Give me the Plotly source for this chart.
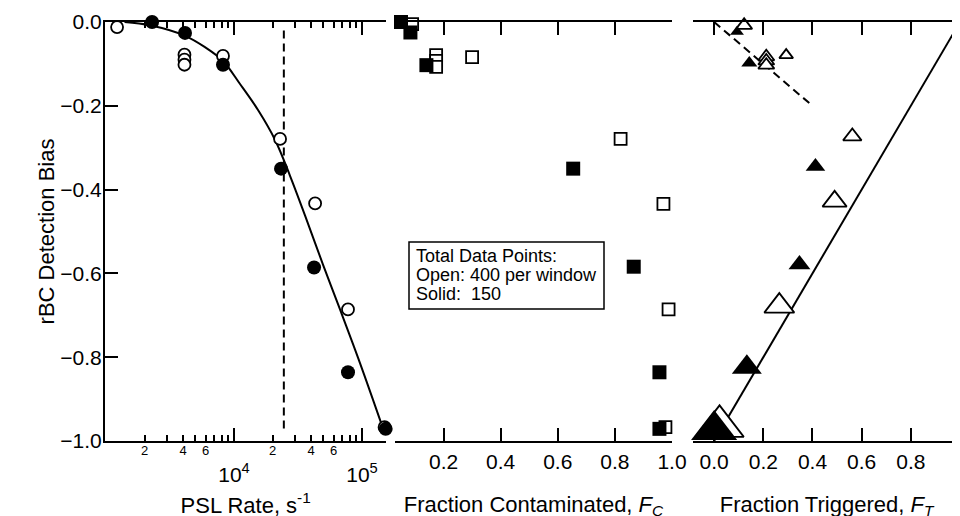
import plotly.graph_objects as go

# ---------------- data ----------------
# Left panel: PSL rate (s^-1) vs rBC detection bias
psl_open_x = [1220, 4100, 4100, 4100, 8200, 22900, 43000, 77700, 150000]
psl_open_y = [-0.012, -0.078, -0.090, -0.102, -0.081, -0.279, -0.433, -0.686, -0.967]
psl_solid_x = [2290, 4140, 8200, 23300, 42200, 77700, 153000]
psl_solid_y = [0.0, -0.026, -0.102, -0.350, -0.586, -0.836, -0.971]
fit_x = [1395, 2208, 4140, 5930, 8200, 11140, 15400, 20900, 27380, 35900, 49550, 67300, 96400, 145900]
fit_y = [0.0, -0.008, -0.033, -0.060, -0.093, -0.148, -0.210, -0.281, -0.367, -0.462, -0.579, -0.686, -0.814, -0.970]
vline_x = [24500, 24500]
vline_y = [-0.02, -0.98]

# Middle panel: fraction contaminated
fc_open_x = [0.09, 0.174, 0.174, 0.174, 0.30, 0.82, 0.97, 0.988, 0.977]
fc_open_y = [-0.005, -0.079, -0.093, -0.107, -0.084, -0.279, -0.434, -0.686, -0.967]
fc_solid_x = [0.051, 0.084, 0.14, 0.654, 0.866, 0.956, 0.956]
fc_solid_y = [0.0, -0.025, -0.103, -0.350, -0.584, -0.836, -0.971]

# Right panel: fraction triggered
ft_open_x = [0.122, 0.212, 0.212, 0.212, 0.293, 0.562, 0.49, 0.265, 0.022]
ft_open_y = [-0.008, -0.083, -0.093, -0.103, -0.079, -0.273, -0.428, -0.678, -0.965]
ft_open_size = [14, 14, 14, 14, 12, 16, 21, 26, 42]
ft_solid_x = [0.061, 0.093, 0.143, 0.412, 0.347, 0.133, 0.0]
ft_solid_y = [0.002, -0.023, -0.098, -0.345, -0.579, -0.824, -0.974]
ft_solid_size = [11, 12, 14, 17, 19, 26, 40]
ft_dash_x = [0.0, 0.39]
ft_dash_y = [0.0, -0.195]
ft_line_x = [0.0, 1.0]
ft_line_y = [-1.0, 0.0]

# ticks
y_ticks = [0.0, -0.2, -0.4, -0.6, -0.8, -1.0]
log_major = [1e4, 1e5]
log_major_text = ["10<sup>4</sup>", "10<sup>5</sup>"]
log_minor = [2000, 3000, 4000, 5000, 6000, 7000, 8000, 9000,
             20000, 30000, 40000, 50000, 60000, 70000, 80000, 90000]
log_minor_lab = [2000, 4000, 6000, 20000, 40000, 60000]
log_minor_text = ["2", "4", "6", "2", "4", "6"]
fc_ticks = [0.2, 0.4, 0.6, 0.8, 1.0]
ft_ticks = [0.0, 0.2, 0.4, 0.6, 0.8]
box_lines = ["Total Data Points:", "Open: 400 per window", "Solid:  150"]

# ---------------- layout helpers ----------------
# the page body adds an 8 px offset; the figure is shifted accordingly
# (its lowest 8 px fall below the 516 px window, as the reference's titles do)
OFF = 8
W, H = 960 - OFF, 516
ML, MR, MT = 105 - OFF, 0, 22 - OFF
MB = H - (441 - OFF)
PW, PH = W - ML - MR, H - MT - MB


def px(x):
    return (x - OFF - ML) / PW


def py(y):
    return (H - MB - (y - OFF)) / PH


FONT = "Liberation Sans, Arial, Helvetica, sans-serif"
BLK = "black"
LOG_RANGE = [2.992, 5.19]

fig = go.Figure()

# left panel
fig.add_trace(go.Scatter(x=fit_x, y=fit_y, mode="lines", line=dict(color=BLK, width=2, shape="spline"),
                         xaxis="x", yaxis="y", showlegend=False, hoverinfo="skip"))
fig.add_trace(go.Scatter(x=vline_x, y=vline_y, mode="lines", line=dict(color=BLK, width=2, dash="8px,5px"),
                         xaxis="x", yaxis="y", showlegend=False, hoverinfo="skip"))
fig.add_trace(go.Scatter(x=psl_open_x, y=psl_open_y, mode="markers", cliponaxis=False,
                         marker=dict(symbol="circle", size=12, color="white", opacity=1,
                                     line=dict(color=BLK, width=1.8)),
                         xaxis="x", yaxis="y", showlegend=False))
fig.add_trace(go.Scatter(x=psl_solid_x, y=psl_solid_y, mode="markers", cliponaxis=False,
                         marker=dict(symbol="circle", size=14, color=BLK, opacity=1, line=dict(color=BLK, width=0)),
                         xaxis="x", yaxis="y", showlegend=False))
# empty trace so that the overlaying label axis is drawn
fig.add_trace(go.Scatter(x=log_minor_lab, y=[None] * len(log_minor_lab), mode="markers",
                         xaxis="x4", yaxis="y", showlegend=False, hoverinfo="skip"))

# middle panel
fig.add_trace(go.Scatter(x=fc_open_x, y=fc_open_y, mode="markers", cliponaxis=False,
                         marker=dict(symbol="square", size=12, color="white", opacity=1,
                                     line=dict(color=BLK, width=1.8)),
                         xaxis="x2", yaxis="y", showlegend=False))
fig.add_trace(go.Scatter(x=fc_solid_x, y=fc_solid_y, mode="markers", cliponaxis=False,
                         marker=dict(symbol="square", size=14, color=BLK, opacity=1, line=dict(color=BLK, width=0)),
                         xaxis="x2", yaxis="y", showlegend=False))

# right panel
fig.add_trace(go.Scatter(x=ft_line_x, y=ft_line_y, mode="lines", line=dict(color=BLK, width=2),
                         xaxis="x3", yaxis="y2", showlegend=False, hoverinfo="skip"))
fig.add_trace(go.Scatter(x=ft_dash_x, y=ft_dash_y, mode="lines", line=dict(color=BLK, width=2, dash="8px,5px"),
                         xaxis="x3", yaxis="y2", showlegend=False, hoverinfo="skip"))
fig.add_trace(go.Scatter(x=ft_open_x, y=ft_open_y, mode="markers", cliponaxis=False,
                         marker=dict(symbol="triangle-up", size=ft_open_size, color="white", opacity=1,
                                     line=dict(color=BLK, width=1.8)),
                         xaxis="x3", yaxis="y2", showlegend=False))
fig.add_trace(go.Scatter(x=ft_solid_x, y=ft_solid_y, mode="markers", cliponaxis=False,
                         marker=dict(symbol="triangle-up", size=ft_solid_size, color=BLK, opacity=1,
                                     line=dict(color=BLK, width=0)),
                         xaxis="x3", yaxis="y2", showlegend=False))

tickfont = dict(family=FONT, size=21, color=BLK)
titlefont = dict(family=FONT, size=22, color=BLK)

common_x = dict(showline=True, linecolor=BLK, linewidth=2, mirror="ticks", ticks="inside",
                ticklen=13, tickwidth=2, tickcolor=BLK, showgrid=False, zeroline=False,
                tickfont=tickfont, automargin=False)

left_end = 105 + (LOG_RANGE[1] - LOG_RANGE[0]) * 128

fig.update_layout(
    width=W, height=H, margin=dict(l=ML, r=MR, t=MT, b=MB),
    paper_bgcolor="white", plot_bgcolor="white", template="none",
    font=dict(family=FONT, color=BLK),
    xaxis=dict(domain=[0, px(left_end)], type="log", range=LOG_RANGE, anchor="y",
               tickmode="array", tickvals=log_major, ticktext=log_major_text, ticklabelstandoff=14,
               minor=dict(tickmode="array", tickvals=log_minor, ticks="inside", ticklen=6,
                          tickwidth=2, tickcolor=BLK, showgrid=False),
               title=dict(text="PSL Rate, s<sup>-1</sup>", font=titlefont, standoff=12),
               **common_x),
    xaxis4=dict(domain=[0, px(left_end)], type="log", range=LOG_RANGE, anchor="y", overlaying="x",
                side="bottom", tickmode="array", tickvals=log_minor_lab, ticktext=log_minor_text,
                ticks="", showline=False, showgrid=False, zeroline=False,
                tickfont=dict(family=FONT, size=13, color=BLK), automargin=False),
    xaxis2=dict(domain=[px(395), px(672)], range=[0.03, 1.0], anchor="y",
                tickmode="array", tickvals=fc_ticks, tickformat=".1f", ticklabelstandoff=1,
                title=dict(text="Fraction Contaminated, <i>F</i><sub><i>C</i></sub>", font=titlefont, standoff=24),
                **common_x),
    xaxis3=dict(domain=[px(693), 1.0], range=[-0.086, 1.0], anchor="y2",
                tickmode="array", tickvals=ft_ticks, tickformat=".1f", ticklabelstandoff=1,
                title=dict(text="Fraction Triggered, <i>F</i><sub><i>T</i></sub>", font=titlefont, standoff=24),
                **common_x),
    yaxis=dict(domain=[0, 1], range=[-1.0, 0.0], anchor="x",
               tickmode="array", tickvals=y_ticks, tickformat=".1f", ticklabelstandoff=-3,
               showline=True, linecolor=BLK, linewidth=2, ticks="inside", ticklen=13, tickwidth=2,
               tickcolor=BLK, showgrid=False, zeroline=False, tickfont=tickfont, automargin=False,
               title=dict(text="rBC Detection Bias", font=titlefont, standoff=0)),
    yaxis2=dict(domain=[0, 1], range=[-1.0, 0.0], anchor="x3", side="right",
                tickmode="array", tickvals=y_ticks[1:-1], showticklabels=False,
                showline=False, ticks="inside", ticklen=6, tickwidth=2, tickcolor=BLK,
                showgrid=False, zeroline=False, automargin=False),
)

# text box
fig.add_shape(type="rect", xref="paper", yref="paper", x0=px(409), x1=px(604), y0=py(309), y1=py(242),
              line=dict(color=BLK, width=1.5), fillcolor="white", layer="above")
for t, yc in zip(box_lines, [256, 275, 294]):
    fig.add_annotation(text=t, xref="paper", yref="paper", x=px(414), y=py(yc), xanchor="left",
                       yanchor="middle", showarrow=False, font=dict(family=FONT, size=18, color=BLK))

fig.write_html("out.html")
